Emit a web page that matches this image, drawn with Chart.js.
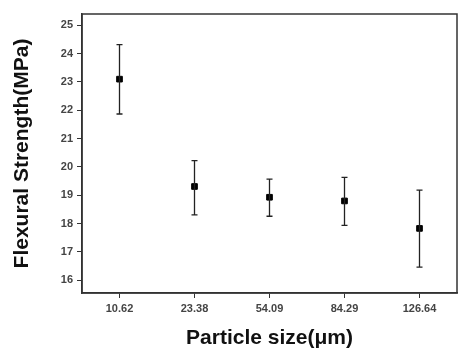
<!DOCTYPE html>
<html>
<head>
<meta charset="utf-8">
<script src="https://cdn.jsdelivr.net/npm/chart.js@4.4.1/dist/chart.umd.min.js"></script>
<style>
  html, body { margin: 0; padding: 0; background: #fff; }
  #wrap { width: 472px; height: 361px; }
</style>
</head>
<body>
<div id="wrap"><canvas id="c" width="472" height="361"></canvas></div>
<script>
// Données
const particleSizes = ['10.62', '23.38', '54.09', '84.29', '126.64'];
const strengthMean = [23.1, 19.31, 18.93, 18.8, 17.83];
const strengthUpper = [24.32, 20.22, 19.57, 19.63, 19.18];
const strengthLower = [21.87, 18.31, 18.26, 17.94, 16.46];
const yTicks = [16, 17, 18, 19, 20, 21, 22, 23, 24, 25];

// Barres d'erreur + cadre autour de la zone du graphique
const errorBarsPlugin = {
    id: 'errorBars',
    afterDatasetsDraw(chart) {
        const ctx = chart.ctx;
        const xs = chart.scales.x;
        const ys = chart.scales.y;
        ctx.save();
        ctx.strokeStyle = '#222';
        ctx.lineWidth = 1.3;
        strengthMean.forEach((v, i) => {
            const x = xs.getPixelForValue(i);
            const top = ys.getPixelForValue(strengthUpper[i]);
            const bot = ys.getPixelForValue(strengthLower[i]);
            ctx.beginPath();
            ctx.moveTo(x, top); ctx.lineTo(x, bot);
            ctx.moveTo(x - 3, top); ctx.lineTo(x + 3, top);
            ctx.moveTo(x - 3, bot); ctx.lineTo(x + 3, bot);
            ctx.stroke();
        });
        ctx.restore();
    },
    afterDraw(chart) {
        const a = chart.chartArea;
        const ctx = chart.ctx;
        ctx.save();
        ctx.strokeStyle = '#333';
        ctx.lineWidth = 1.5;
        ctx.strokeRect(a.left, a.top, a.right - a.left, a.bottom - a.top);
        ctx.restore();
    }
};

const ctx = document.getElementById('c').getContext('2d');
const chart = new Chart(ctx, {
    type: 'line',
    data: {
        labels: particleSizes,
        datasets: [{
            data: strengthMean,
            showLine: false,
            pointStyle: 'rect',
            pointRadius: 4,
            pointBackgroundColor: '#000',
            pointBorderColor: '#000',
            borderColor: '#000'
        }]
    },
    options: {
        responsive: false,
        animation: false,
        layout: { padding: { top: 14, right: 15, left: 0, bottom: 0 } },
        plugins: {
            legend: { display: false },
            tooltip: { enabled: false }
        },
        scales: {
            x: {
                type: 'category',
                offset: true,
                grid: {
                    offset: false,
                    drawOnChartArea: false,
                    tickLength: 5,
                    color: '#333'
                },
                border: { color: '#333', width: 1.5 },
                ticks: {
                    color: '#444',
                    padding: 4,
                    font: { family: 'Arial, "Liberation Sans"', size: 11, weight: 'bold' }
                },
                title: {
                    display: true,
                    text: 'Particle size(μm)',
                    color: '#111',
                    padding: { top: 4, bottom: 10 },
                    font: { family: 'Arial, "Liberation Sans"', size: 21, weight: 'bold' }
                },
                afterFit(scale) { scale.height = 68; }
            },
            y: {
                min: 15.55,
                max: 25.4,
                afterBuildTicks(scale) {
                    scale.ticks = yTicks.map(v => ({ value: v }));
                },
                grid: {
                    drawOnChartArea: false,
                    tickLength: 5,
                    color: '#333'
                },
                border: { color: '#333', width: 1.5 },
                ticks: {
                    color: '#444',
                    padding: 4,
                    font: { family: 'Arial, "Liberation Sans"', size: 11, weight: 'bold' }
                },
                title: {
                    display: true,
                    text: 'Flexural Strength(MPa)',
                    color: '#111',
                    padding: { top: 10, bottom: 4 },
                    font: { family: 'Arial, "Liberation Sans"', size: 21, weight: 'bold' }
                },
                afterFit(scale) { scale.width = 82; }
            }
        }
    },
    plugins: [errorBarsPlugin]
});
</script>
</body>
</html>
